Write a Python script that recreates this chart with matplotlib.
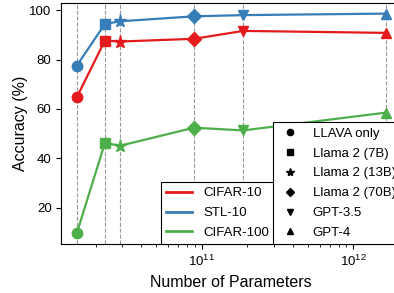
"""Accuracy vs number of parameters for the LLaVA + LLM variants."""

import matplotlib
matplotlib.use("Agg")
import matplotlib.pyplot as plt
from matplotlib.lines import Line2D

plt.rcParams["font.family"] = ["Liberation Sans", "DejaVu Sans"]

models = ["LLAVA only", "Llama 2 (7B)", "Llama 2 (13B)", "Llama 2 (70B)", "GPT-3.5", "GPT-4"]
markers = ["o", "s", "*", "D", "v", "^"]
n_params = [1.5e10, 2.3e10, 2.9e10, 8.9e10, 1.88e11, 1.64e12]

datasets = ["CIFAR-10", "STL-10", "CIFAR-100"]
colors = ["#e41a1c", "#377eb8", "#4daf4a"]
cifar10 = [64.7, 87.7, 87.3, 88.4, 91.6, 90.8]
stl10 = [77.5, 94.4, 95.5, 97.5, 98.0, 98.6]
cifar100 = [9.6, 46.2, 45.1, 52.4, 51.3, 58.5]

fig = plt.figure(figsize=(3.94, 2.93), dpi=100)
ax = fig.add_axes([0.1556, 0.166, 0.8627, 0.825])

# dashed guide lines at every model size
for x in n_params:
    ax.axvline(x, color="gray", linestyle="--", linewidth=0.8, alpha=0.8, zorder=1)

for name, vals, c in zip(datasets, [cifar10, stl10, cifar100], colors):
    ax.plot(n_params, vals, color=c, linewidth=1.6, zorder=2)
    for x, y, m in zip(n_params, vals, markers):
        ms = 9.5 if m == "*" else 7.5
        ax.plot(x, y, marker=m, color=c, markersize=ms, linestyle="none", zorder=3)

ax.set_xscale("log")
ax.set_xlabel("Number of Parameters", fontsize=11.5)
ax.set_ylabel("Accuracy (%)", fontsize=11.5, labelpad=1)
ax.set_yticks([20, 40, 60, 80, 100])
ax.tick_params(labelsize=9.5)

line_handles = [Line2D([0], [0], color=c, linewidth=2) for c in colors]
leg1 = ax.legend(line_handles, datasets, loc="lower right", bbox_to_anchor=(0.626, 0.0),
                 borderaxespad=0, fancybox=False, edgecolor="black", framealpha=1,
                 fontsize=9.5, labelspacing=0.58)
leg1.get_frame().set_linewidth(0.8)
ax.add_artist(leg1)

marker_handles = [Line2D([0], [0], marker=m, color="black", linestyle="none",
                         markersize=6 if m == "*" else 4.5) for m in markers]
leg2 = ax.legend(marker_handles, models, loc="lower right", borderaxespad=0,
                 fancybox=False, edgecolor="black", framealpha=1, fontsize=9.5,
                 labelspacing=0.58, handlelength=1.8)
leg2.get_frame().set_linewidth(0.8)

fig.savefig("out.png", dpi=100)
